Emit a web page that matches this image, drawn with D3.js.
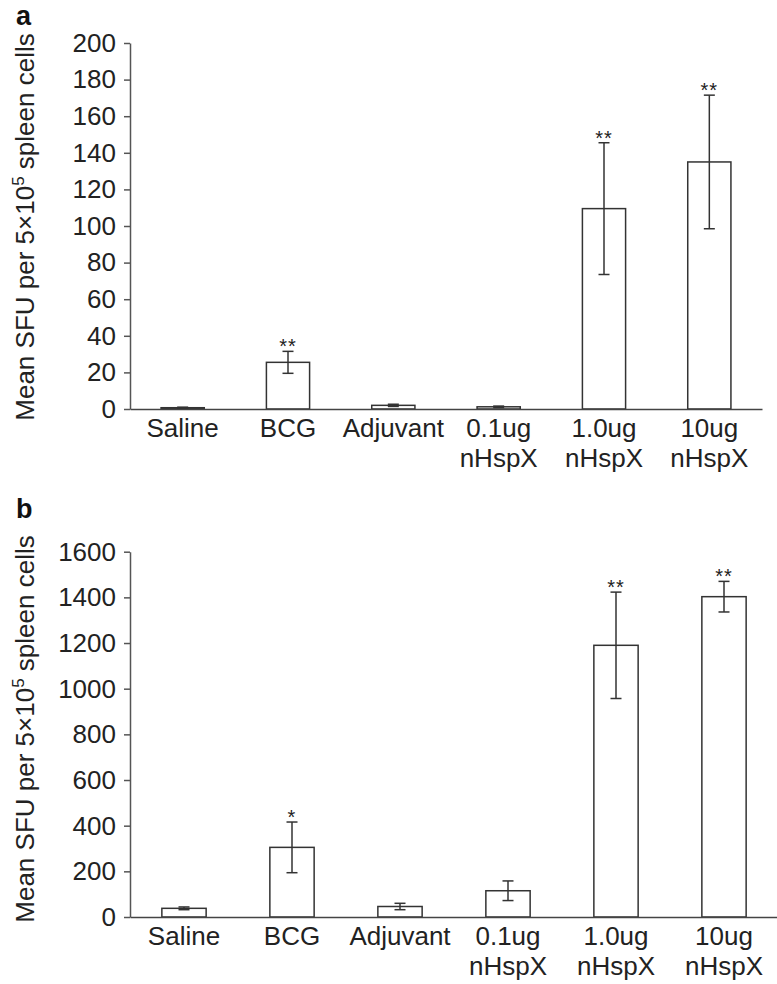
<!DOCTYPE html>
<html>
<head>
<meta charset="utf-8">
<script src="https://cdn.jsdelivr.net/npm/d3@7"></script>
<style>
  html, body { margin: 0; padding: 0; background: #fff; }
  svg { display: block; }
  text { font-family: "Liberation Sans", Arial, sans-serif; fill: #222; }
</style>
</head>
<body>
<svg id="chart" width="777" height="984"></svg>
<script>
// ---- Data ----
const categories = ["Saline", "BCG", "Adjuvant", "0.1ug nHspX", "1.0ug nHspX", "10ug nHspX"];
const categoryLines = [["Saline"], ["BCG"], ["Adjuvant"], ["0.1ug", "nHspX"], ["1.0ug", "nHspX"], ["10ug", "nHspX"]];

const meanA = [0.7, 25.5, 2, 1.2, 109.5, 135];
const errA  = [0.3, 6, 0.6, 0.4, 36, 36.5];
const sigA  = ["", "**", "", "", "**", "**"];
const ticksA = [0, 20, 40, 60, 80, 100, 120, 140, 160, 180, 200];

const meanB = [38, 305, 46, 115, 1190, 1403];
const errB  = [6, 111, 14, 43, 233, 67];
const sigB  = ["", "*", "", "", "**", "**"];
const ticksB = [0, 200, 400, 600, 800, 1000, 1200, 1400, 1600];

const yTitle = "Mean SFU per 5×10";
const yTitleSup = "5";
const yTitleEnd = " spleen cells";

// ---- Drawing ----
const svg = d3.select("#chart");
const lineColor = "#333";
const fontSize = 26;

function panel(opts) {
  const { letter, letterY, x0, x1, yTop, yBottom, ymax, ticks, means, errs, sigs, titleY } = opts;
  const g = svg.append("g");

  const x = d3.scaleBand().domain(categories).range([x0, x1])
    .paddingInner(0.59).paddingOuter(0.295);
  const y = d3.scaleLinear().domain([0, ymax]).range([yBottom, yTop]);

  // panel letter
  g.append("text").attr("x", 16).attr("y", letterY)
    .style("font-size", "27px").style("font-weight", "bold").style("fill", "#111")
    .text(letter);

  // y axis
  const yAxis = d3.axisLeft(y).tickValues(ticks).tickFormat(d3.format("d"))
    .tickSize(6).tickPadding(8).tickSizeOuter(0);
  const ya = g.append("g").attr("transform", `translate(${x0},0)`).call(yAxis);
  ya.select(".domain").attr("stroke", "#555").attr("stroke-width", 1.5);
  ya.selectAll(".tick line").attr("stroke", "#555").attr("stroke-width", 1.5);
  ya.selectAll(".tick text").style("font-size", fontSize + "px")
    .style("font-family", "'Liberation Sans', Arial, sans-serif").attr("fill", "#222");

  // bars
  g.selectAll("rect.bar").data(categories).enter().append("rect")
    .attr("class", "bar")
    .attr("x", d => x(d))
    .attr("width", x.bandwidth())
    .attr("y", (d, i) => y(means[i]))
    .attr("height", (d, i) => y(0) - y(means[i]))
    .attr("fill", "#fff").attr("stroke", lineColor).attr("stroke-width", 1.5);

  // x axis line
  const xAxis = d3.axisBottom(x).tickSize(0).tickSizeOuter(0).tickFormat("");
  const xa = g.append("g").attr("transform", `translate(0,${y(0)})`).call(xAxis);
  xa.select(".domain").attr("stroke", "#444").attr("stroke-width", 1.5);

  // error bars
  const cap = 5.5;
  categories.forEach((c, i) => {
    const cx = x(c) + x.bandwidth() / 2;
    const hi = y(means[i] + errs[i]);
    const lo = y(Math.max(0, means[i] - errs[i]));
    const eg = g.append("g").attr("stroke", lineColor).attr("stroke-width", 1.5);
    eg.append("line").attr("x1", cx).attr("x2", cx).attr("y1", hi).attr("y2", lo);
    eg.append("line").attr("x1", cx - cap).attr("x2", cx + cap).attr("y1", hi).attr("y2", hi);
    eg.append("line").attr("x1", cx - cap).attr("x2", cx + cap).attr("y1", lo).attr("y2", lo);
    if (sigs[i]) {
      g.append("text").attr("x", cx).attr("y", hi + 2)
        .attr("text-anchor", "middle").style("font-size", "20px")
        .style("letter-spacing", "1px")
        .text(sigs[i]);
    }
  });

  // category labels
  categories.forEach((c, i) => {
    const cx = x(c) + x.bandwidth() / 2;
    const t = g.append("text").attr("x", cx).attr("y", y(0) + 28)
      .attr("text-anchor", "middle").style("font-size", fontSize + "px");
    categoryLines[i].forEach((ln, k) => {
      t.append("tspan").attr("x", cx).attr("dy", k === 0 ? 0 : 30).text(ln);
    });
  });

  // y title
  const tt = g.append("text")
    .attr("transform", `translate(34,${titleY}) rotate(-90)`)
    .attr("text-anchor", "middle").style("font-size", fontSize + "px");
  tt.append("tspan").text(yTitle);
  tt.append("tspan").attr("dy", -10).style("font-size", "17px").text(yTitleSup);
  tt.append("tspan").attr("dy", 10).text(yTitleEnd);
}

panel({ letter: "a", letterY: 25, x0: 130, x1: 762, yTop: 43, yBottom: 409, ymax: 200,
  ticks: ticksA, means: meanA, errs: errA, sigs: sigA, titleY: 227 });
panel({ letter: "b", letterY: 518, x0: 130, x1: 778, yTop: 551.7, yBottom: 917, ymax: 1600,
  ticks: ticksB, means: meanB, errs: errB, sigs: sigB, titleY: 729 });
</script>
</body>
</html>
